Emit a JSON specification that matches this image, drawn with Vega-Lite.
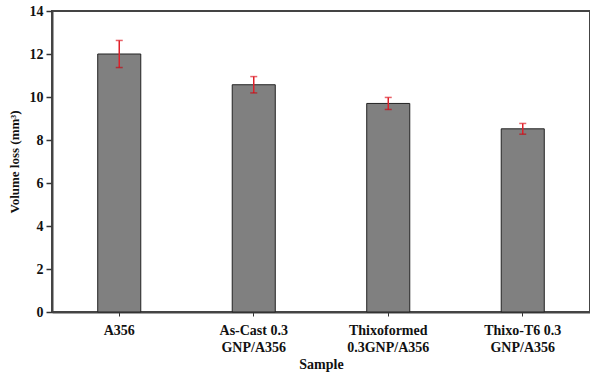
{
  "$schema": "https://vega.github.io/schema/vega-lite/v6.json",
  "width": 538,
  "height": 301,
  "autosize": {"type": "none"},
  "padding": {"left": 52, "top": 11, "right": 0, "bottom": 64},
  "background": "white",
  "config": {
    "font": "Liberation Serif",
    "view": {"stroke": "#444", "strokeWidth": 2}
  },
  "data": {
    "values": [
      {"sample": "A356", "loss": 12.0, "lo": 11.37, "hi": 12.63},
      {"sample": "As-Cast 0.3|GNP/A356", "loss": 10.57, "lo": 10.19, "hi": 10.95},
      {"sample": "Thixoformed|0.3GNP/A356", "loss": 9.7, "lo": 9.42, "hi": 9.98},
      {"sample": "Thixo-T6 0.3|GNP/A356", "loss": 8.52, "lo": 8.27, "hi": 8.77}
    ]
  },
  "encoding": {
    "x": {
      "field": "sample",
      "type": "nominal",
      "sort": null,
      "scale": {"paddingInner": 0.68, "paddingOuter": 0.34},
      "axis": {
        "title": "Sample",
        "labelAngle": 0,
        "labelExpr": "split(datum.label, '|')",
        "labelFont": "Liberation Serif",
        "labelFontWeight": "bold",
        "labelFontSize": 14,
        "labelColor": "#111",
        "labelLineHeight": 17,
        "labelPadding": 7,
        "titleFont": "Liberation Serif",
        "titleFontWeight": "bold",
        "titleFontSize": 14,
        "titleColor": "#111",
        "titlePadding": 3,
        "domainColor": "#444",
        "domainWidth": 2,
        "tickColor": "#333",
        "tickSize": 4,
        "tickWidth": 1
      }
    }
  },
  "layer": [
    {
      "mark": {"type": "bar", "fill": "#808080", "stroke": "#222", "strokeWidth": 1},
      "encoding": {
        "y": {
          "field": "loss",
          "type": "quantitative",
          "scale": {"domain": [0, 14], "nice": false},
          "axis": {
            "title": "Volume loss (mm³)",
            "values": [0, 1, 2, 3, 4, 5, 6, 7, 8, 9, 10, 11, 12, 13, 14],
            "labelExpr": "datum.value % 2 === 0 ? datum.label : ''",
            "grid": false,
            "labelFont": "Liberation Serif",
            "labelFontWeight": "bold",
            "labelFontSize": 14,
            "labelColor": "#111",
            "labelPadding": 3,
            "titleFont": "Liberation Serif",
            "titleFontWeight": "bold",
            "titleFontSize": 13,
            "titleColor": "#111",
            "titlePadding": 8,
            "domainColor": "#444",
            "domainWidth": 2,
            "tickColor": "#333",
            "tickWidth": 1.5,
            "tickSize": {"condition": {"test": "datum.value % 2 === 0", "value": 6}, "value": 3}
          }
        }
      }
    },
    {
      "mark": {"type": "rule", "color": "#e0202a", "strokeWidth": 1.5},
      "encoding": {
        "y": {"field": "lo", "type": "quantitative"},
        "y2": {"field": "hi"}
      }
    },
    {
      "mark": {"type": "tick", "color": "#e0202a", "thickness": 1.5, "size": 7, "orient": "horizontal"},
      "encoding": {
        "y": {"field": "hi", "type": "quantitative"}
      }
    },
    {
      "mark": {"type": "tick", "color": "#c0101a", "thickness": 1.5, "size": 7, "orient": "horizontal"},
      "encoding": {
        "y": {"field": "lo", "type": "quantitative"}
      }
    }
  ]
}
